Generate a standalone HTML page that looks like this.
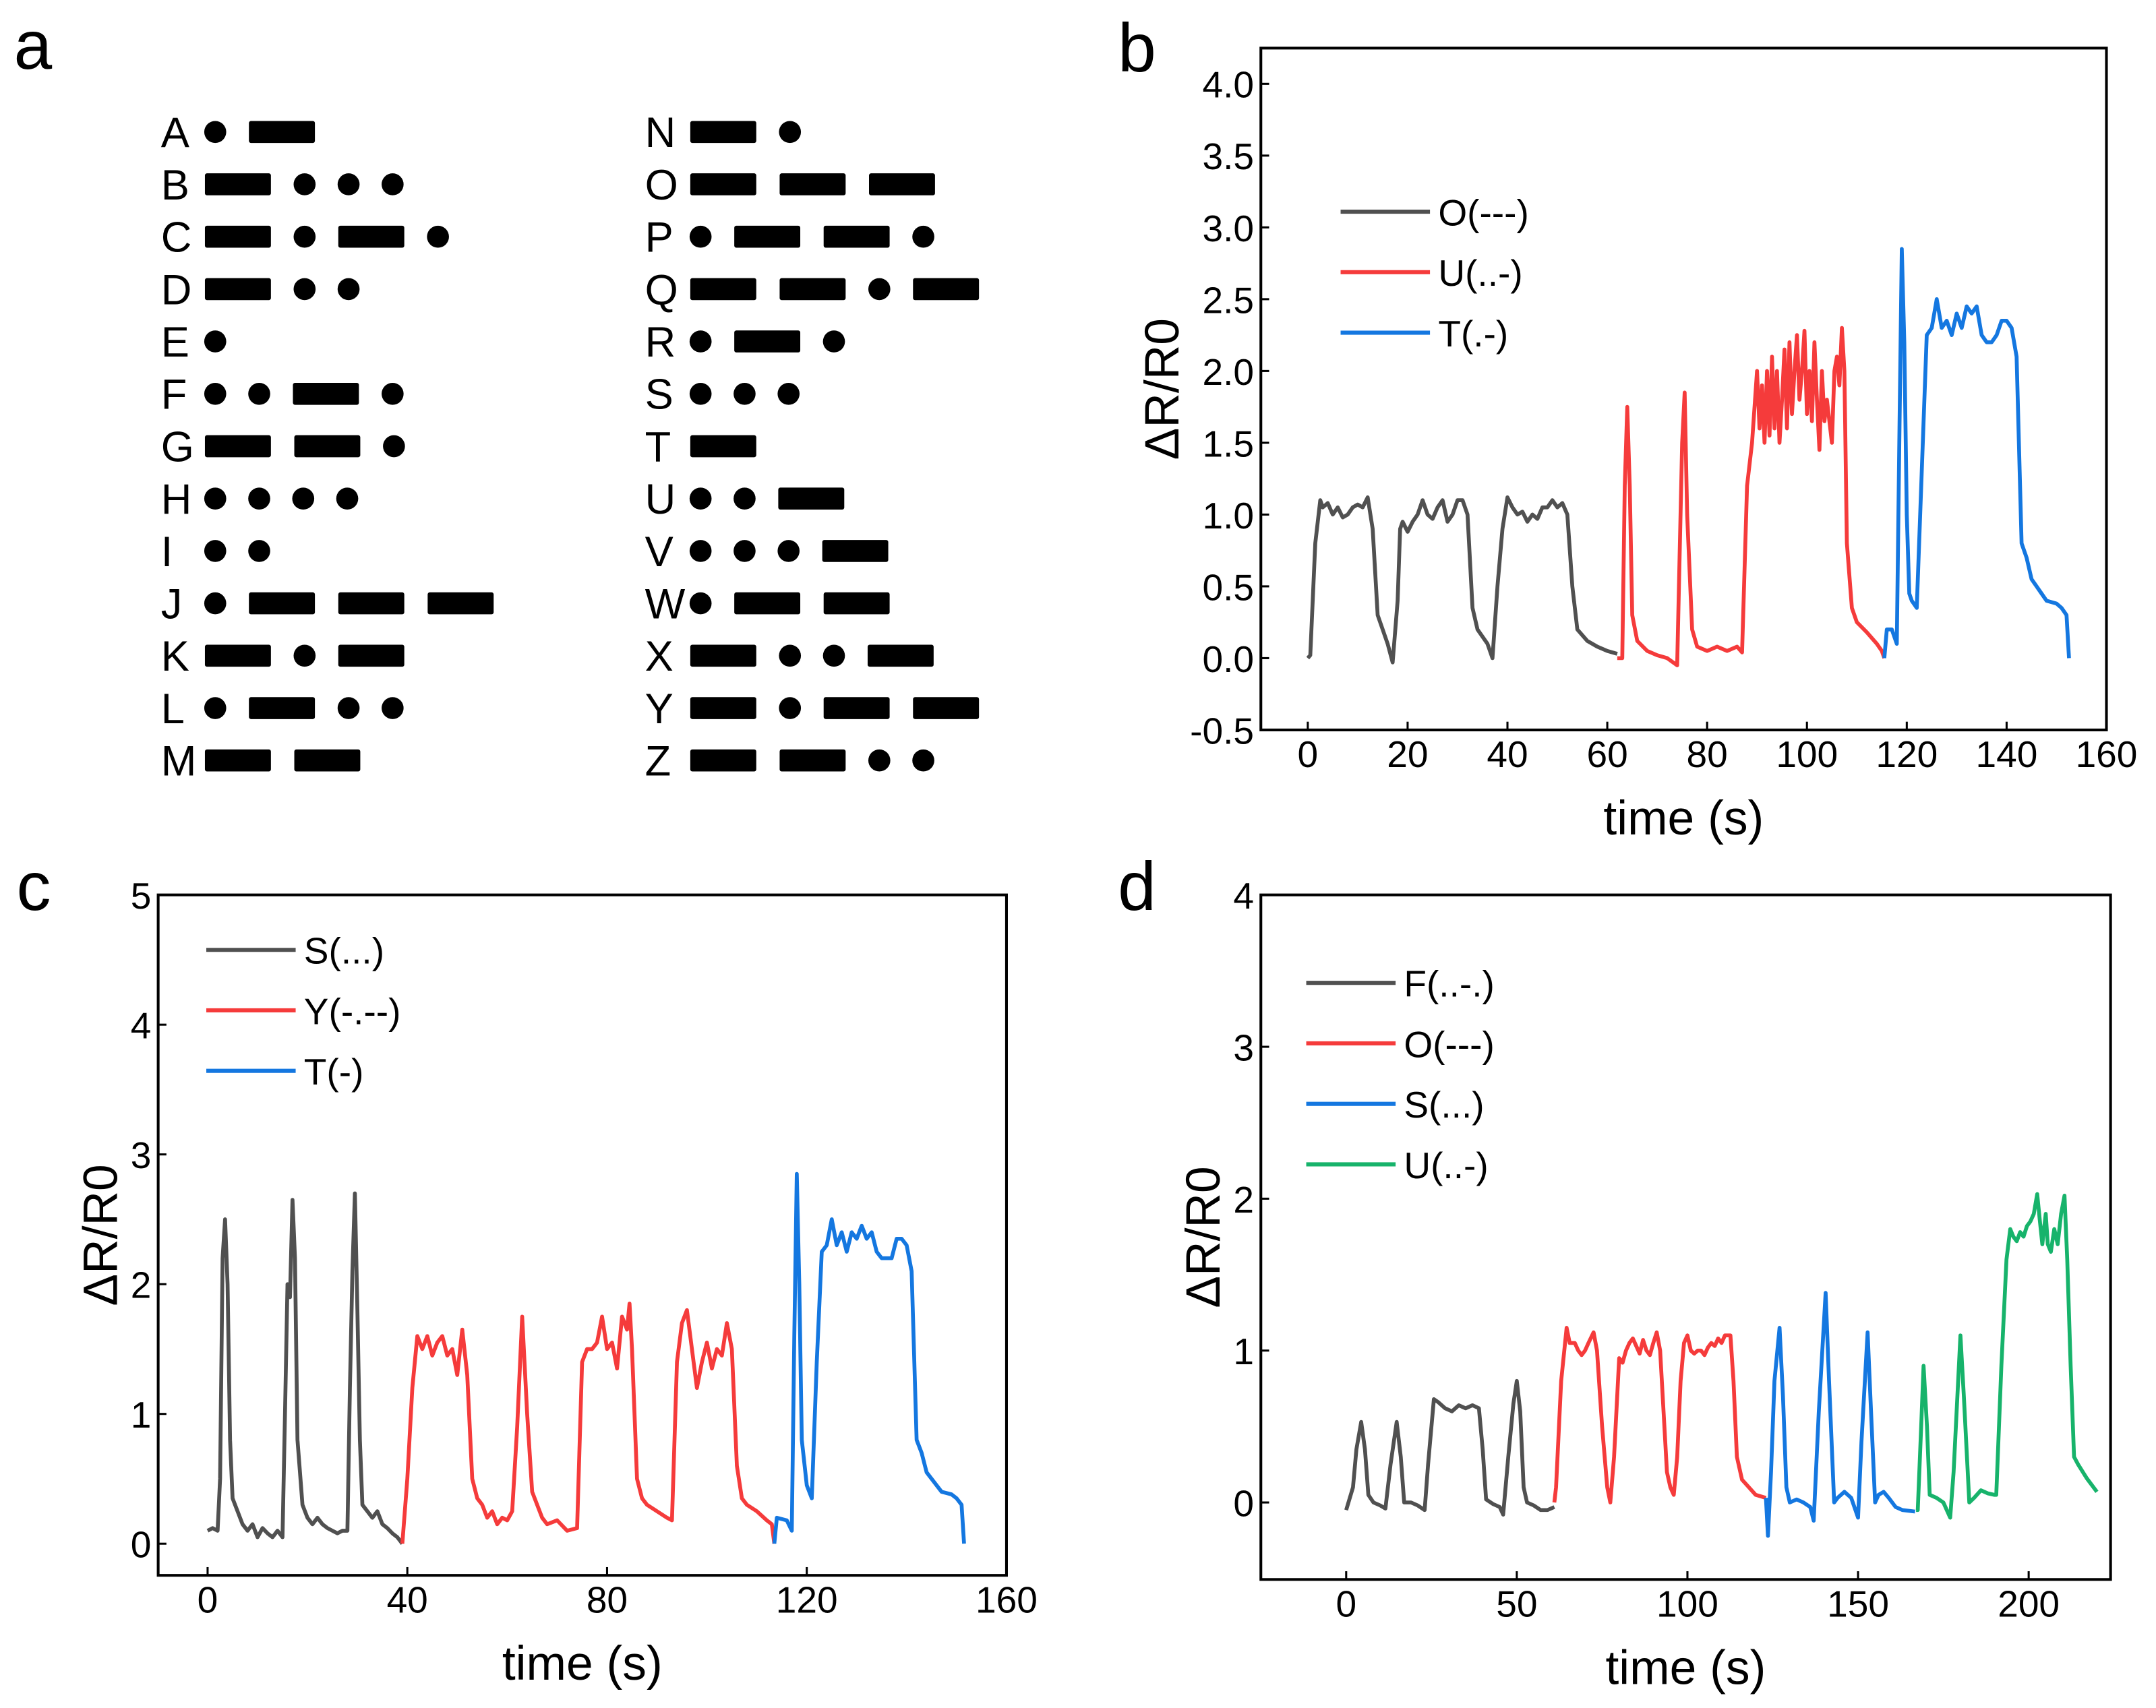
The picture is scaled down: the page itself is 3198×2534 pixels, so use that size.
<!DOCTYPE html>
<html><head><meta charset="utf-8"><style>
html,body{margin:0;padding:0;background:#fff;}
svg{display:block;font-family:"Liberation Sans",Arial,sans-serif;}
</style></head><body>
<svg id="fig" xmlns="http://www.w3.org/2000/svg" width="3198" height="2534" viewBox="0 0 1568 1242.5">
<rect x="0" y="0" width="1568" height="1242.5" fill="#fff"/>
<g id="morse"></g>
<g id="pb"></g>
<g id="pc"></g>
<g id="pd"></g>
</svg>
<script>
const NS="http://www.w3.org/2000/svg";
// ---------- Morse data ----------
const morseLeft=[["A",".-"],["B","-..."],["C","-.-."],["D","-.."],["E","."],["F","..-."],["G","--."],["H","...."],["I",".."],["J",".---"],["K","-.-"],["L",".-.."],["M","--"]];
const morseRight=[["N","-."],["O","---"],["P",".--."],["Q","--.-"],["R",".-."],["S","..."],["T","-"],["U","..-"],["V","...-"],["W",".--"],["X","-..-"],["Y","-.--"],["Z","--.."]];

// ---------- Panel b data ----------
const bCats=["O(---)","U(..-)","T(.-)"];
const bOt=[0,0.5,1.5,2.5,3,4,5,6,7,8,9,10,11,12,13,14,15,16,17,18,18.5,19,20,21,22,23,24,25,26,27,28,29,30,31,32,33,34,35,36,37,38,39,40,41,42,43,44,45,46,47,48,49,50,51,52,53,54,56,58,60,62];
const bOv=[0,0.02,0.8,1.1,1.05,1.08,1.0,1.05,0.98,1.0,1.05,1.07,1.05,1.12,0.9,0.3,0.2,0.1,-0.03,0.4,0.9,0.95,0.88,0.95,1.0,1.1,1.0,0.97,1.05,1.1,0.95,1.0,1.1,1.1,1.0,0.35,0.2,0.15,0.1,0.0,0.5,0.9,1.12,1.05,1.0,1.02,0.95,1.0,0.97,1.05,1.05,1.1,1.05,1.08,1.0,0.5,0.2,0.12,0.08,0.05,0.03];
const bUt=[62,63,63.5,64,64.5,65,66,68,70,72,74,75,75.5,76,77,78,80,82,84,86,87,88,89,90,90.5,91,91.5,92,92.5,93,93.5,94,94.5,95,95.5,96,96.5,97,97.5,98,98.5,99,99.5,100,100.5,101,101.5,102,102.5,103,103.5,104,105,105.5,106,106.5,107,107.5,108,109,110,112,114,115,115.5];
const bUv=[0,0,1.2,1.75,1.2,0.3,0.12,0.05,0.02,0,-0.05,1.5,1.85,1.0,0.2,0.08,0.05,0.08,0.05,0.08,0.04,1.2,1.5,2.0,1.6,1.9,1.5,2.0,1.55,2.1,1.6,2.0,1.5,1.8,2.15,1.6,2.2,1.7,2.0,2.25,1.8,2.0,2.28,1.7,2.0,1.65,2.2,1.8,1.45,2.0,1.65,1.8,1.5,2.0,2.1,1.9,2.3,2.0,0.8,0.35,0.25,0.18,0.1,0.05,0];
const bTt=[115.5,116,117,118,118.5,119,119.5,120,120.5,121,122,123,124,125,126,127,128,129,130,131,132,133,134,135,136,137,138,139,140,141,142,143,144,145,146,147,148,150,151,152,152.5];
const bTv=[0,0.2,0.2,0.1,1.5,2.85,2.2,1.0,0.45,0.4,0.35,1.3,2.25,2.3,2.5,2.3,2.35,2.25,2.4,2.3,2.45,2.4,2.45,2.25,2.2,2.2,2.25,2.35,2.35,2.3,2.1,0.8,0.7,0.55,0.5,0.45,0.4,0.38,0.35,0.3,0];
const bYTicks=[-0.5,0,0.5,1,1.5,2,2.5,3,3.5,4];
const bXTicks=[0,20,40,60,80,100,120,140,160];

// ---------- Panel c data ----------
const cCats=["S(...)","Y(-.--)","T(-)"];
const cSt=[0,1,2,2.5,3,3.5,4,4.5,5,6,7,8,9,10,11,12,13,14,15,15.5,16,16.5,17,17.5,18,19,20,21,22,23,24,25,26,27,28,28.5,29,29.5,30,30.5,31,32,33,34,35,36,37,38,39];
const cSv=[0.1,0.12,0.1,0.5,2.2,2.5,2.0,0.8,0.35,0.25,0.15,0.1,0.15,0.05,0.12,0.08,0.05,0.1,0.05,1.0,2.0,1.9,2.65,2.2,0.8,0.3,0.2,0.15,0.2,0.15,0.12,0.1,0.08,0.1,0.1,1.2,2.1,2.7,1.8,0.8,0.3,0.25,0.2,0.25,0.15,0.12,0.08,0.05,0.0];
const cYt=[39,40,41,42,43,44,45,46,47,48,49,50,51,52,53,54,55,56,57,58,59,60,61,62,63,64,65,66,67,68,70,72,74,75,76,77,78,79,80,81,82,83,84,84.5,85,86,87,88,90,92,93,94,95,96,97,98,99,100,101,102,103,104,105,106,107,108,110,112,113,113.5];
const cYv=[0,0.5,1.2,1.6,1.5,1.6,1.45,1.55,1.6,1.45,1.5,1.3,1.65,1.3,0.5,0.35,0.3,0.2,0.25,0.15,0.2,0.18,0.25,0.9,1.75,1.0,0.4,0.3,0.2,0.15,0.18,0.1,0.12,1.4,1.5,1.5,1.55,1.75,1.5,1.55,1.35,1.75,1.65,1.85,1.5,0.5,0.35,0.3,0.25,0.2,0.18,1.4,1.7,1.8,1.5,1.2,1.4,1.55,1.35,1.5,1.45,1.7,1.5,0.6,0.35,0.3,0.25,0.18,0.15,0];
const cTt=[113.5,114,116,117,117.5,118,118.5,119,120,121,122,123,124,125,126,127,128,129,130,131,132,133,134,135,136,137,138,139,140,141,142,143,144,145,146,147,149,150,151,151.5];
const cTv=[0,0.2,0.18,0.1,1.6,2.85,2.0,0.8,0.45,0.35,1.4,2.25,2.3,2.5,2.3,2.4,2.25,2.4,2.35,2.45,2.35,2.4,2.25,2.2,2.2,2.2,2.35,2.35,2.3,2.1,0.8,0.7,0.55,0.5,0.45,0.4,0.38,0.35,0.3,0];
const cYTicks=[0,1,2,3,4,5];
const cXTicks=[0,40,80,120,160];

// ---------- Panel d data ----------
const dCats=["F(..-.)","O(---)","S(...)","U(..-)"];
const dFt=[0,2,3,4.4,5.5,6.5,8,10,11.5,13,14.8,16,17,19,21,23,24,25.7,27,29,31,33,35,37,38.9,40,41,43,45,46,47.5,49,50,51,52,53,55,57,59,61];
const dFv=[-0.05,0.1,0.35,0.53,0.35,0.05,0.0,-0.02,-0.04,0.25,0.53,0.3,0.0,0.0,-0.02,-0.05,0.25,0.68,0.66,0.62,0.6,0.64,0.62,0.64,0.62,0.35,0.02,-0.01,-0.03,-0.08,0.3,0.65,0.8,0.6,0.1,0.0,-0.02,-0.05,-0.05,-0.03];
const dOt=[61,61.5,63,64.6,65.5,67,68,69,70,71,72.5,73.5,75,76.5,77.4,78.5,80,81,82,83,84,85,86,87,88,89,90,91,92,93,94,95,96,97,98,99,100,101,102,103,104,105,106,107,108,109,110,111,112.6,113.5,114.5,116,118,120,123];
const dOv=[0.0,0.1,0.8,1.15,1.05,1.05,1.0,0.97,1.0,1.05,1.12,1.0,0.5,0.1,0.0,0.3,0.95,0.92,1.0,1.05,1.08,1.03,0.98,1.07,1.0,0.97,1.05,1.12,1.0,0.6,0.2,0.1,0.05,0.3,0.8,1.05,1.1,1.0,0.98,1.0,1.0,0.97,1.02,1.05,1.03,1.08,1.05,1.1,1.1,0.8,0.3,0.15,0.1,0.05,0.03];
const dSt=[123,123.6,124.5,125.5,127,128,129,130,132,134,136,137,138.5,140.5,141.5,143,144,146,148,150,151,152.8,153.8,155,156,157.5,159,161,163,166.7];
const dSv=[0.03,-0.22,0.2,0.8,1.15,0.7,0.1,0.0,0.02,0.0,-0.03,-0.12,0.6,1.38,0.8,0.0,0.03,0.07,0.03,-0.1,0.4,1.12,0.6,0.0,0.05,0.07,0.03,-0.03,-0.05,-0.06];
const dUt=[167,167.5,168.5,169.2,170.2,171,173,175,177,178,180,181,182.6,184,186,188,190,190.5,192,193.5,194.6,195.5,196.5,197.5,198.5,199.5,200.5,201.5,202.5,203.3,204,205,205.6,206.5,207.5,208.5,209.5,210.5,211.3,212.3,213.3,214.5,217,220];
const dUv=[-0.05,-0.05,0.5,0.9,0.5,0.05,0.03,0.0,-0.1,0.2,1.1,0.7,0.0,0.03,0.08,0.06,0.05,0.05,0.9,1.6,1.8,1.75,1.72,1.78,1.75,1.82,1.85,1.9,2.03,1.85,1.7,1.9,1.7,1.65,1.8,1.7,1.9,2.02,1.6,0.9,0.3,0.25,0.16,0.07];
const dYTicks=[0,1,2,3,4];
const dXTicks=[0,50,100,150,200];

const GRAY="#505050",RED="#f53b3b",BLUE="#1477e0",GREEN="#17b36b";

function el(tag,attrs,parent,text){const e=document.createElementNS(NS,tag);for(const k in attrs)e.setAttribute(k,attrs[k]);if(text!==undefined)e.textContent=text;parent.appendChild(e);return e;}

// ---------- Morse draw ----------
const mg=document.getElementById('morse');
const pl=el('text',{x:10,y:50,'font-size':50},mg,'a');


function drawMorse(list,lx,sx){
  list.forEach((it,i)=>{
    const cy=96+i*38.1;
    const t=el('text',{x:lx,y:cy+11,'font-size':31},mg,it[0]);
    
    
    let x=sx;
    for(const ch of it[1]){
      if(ch==='.'){const c=el('circle',{cx:x+7.5,cy:cy,r:8},mg);
        
        
        x+=32;}
      else{const r=el('rect',{x:x,y:cy-8,width:48,height:16,rx:1.5},mg);
        
        
        x+=65;}
    }
  });
}
drawMorse(morseLeft,117,149);
drawMorse(morseRight,469,502);

// ---------- Chart helper ----------
function chart(g,cfg){
  const {L,R,T,B,xmin,xmax,ymin,ymax}=cfg;
  const sx=v=>L+(v-xmin)/(xmax-xmin)*(R-L);
  const sy=v=>B-(v-ymin)/(ymax-ymin)*(B-T);
  const lab=el('text',{x:cfg.lx,y:cfg.ly,'font-size':50},g,cfg.letter);
  
  
  const fr=el('rect',{x:L,y:T,width:R-L,height:B-T,fill:'none',stroke:'#000','stroke-width':2},g);
  
  
  cfg.yt.forEach(v=>{
    const y=sy(v);
    const tk=el('line',{x1:L,x2:L+6,y1:y,y2:y,stroke:'#000','stroke-width':1.5},g);
    
    
    const t=el('text',{x:L-5,y:y+10,'font-size':27,'text-anchor':'end'},g,cfg.yfmt(v));
    
    
  });
  cfg.xt.forEach(v=>{
    const x=sx(v);
    const tk=el('line',{x1:x,x2:x,y1:B,y2:B-6,stroke:'#000','stroke-width':1.5},g);
    
    
    const t=el('text',{x:x,y:B+27,'font-size':27,'text-anchor':'middle'},g,String(v));
    
    
  });
  const xt=el('text',{x:(L+R)/2,y:B+76,'font-size':35,'text-anchor':'middle'},g,'time (s)');
  
  
  const yc=(T+B)/2+cfg.yoff;
  const yt=el('text',{x:L-cfg.ytx,y:yc,'font-size':35,'text-anchor':'middle',transform:`rotate(-90 ${L-cfg.ytx} ${yc})`},g,'ΔR/R0');
  
  
  cfg.series.forEach((s,i)=>{
    const d=s.t.map((t,j)=>(j?'L':'M')+sx(t).toFixed(2)+' '+sy(s.v[j]).toFixed(2)).join('');
    const p=el('path',{d:d,fill:'none',stroke:s.c,'stroke-width':2.8,'stroke-linejoin':'round'},g);
    
    
    const ly=cfg.legY+i*cfg.legDy;
    const ll=el('line',{x1:cfg.legX,x2:cfg.legX+65,y1:ly,y2:ly,stroke:s.c,'stroke-width':3},g);
    
    
    const lt=el('text',{x:cfg.legX+71,y:ly+10,'font-size':27},g,s.n);
    
    
  });
}

chart(document.getElementById('pb'),{letter:'b',lx:813,ly:52,L:917,R:1532,T:35,B:531,xmin:-9.4,xmax:160,ymin:-0.5,ymax:4.2486,
  yt:bYTicks,xt:bXTicks,yfmt:v=>v.toFixed(1),ytx:60,yoff:0,legX:975,legY:154,legDy:44,
  series:[{n:bCats[0],t:bOt,v:bOv,c:GRAY},{n:bCats[1],t:bUt,v:bUv,c:RED},{n:bCats[2],t:bTt,v:bTv,c:BLUE}]});
chart(document.getElementById('pc'),{letter:'c',lx:12,ly:662,L:115,R:732,T:651,B:1146,xmin:-9.9,xmax:160,ymin:-0.244,ymax:5,
  yt:cYTicks,xt:cXTicks,yfmt:v=>String(v),ytx:30,yoff:0,legX:150,legY:691,legDy:44,
  series:[{n:cCats[0],t:cSt,v:cSv,c:GRAY},{n:cCats[1],t:cYt,v:cYv,c:RED},{n:cCats[2],t:cTt,v:cTv,c:BLUE}]});
chart(document.getElementById('pd'),{letter:'d',lx:813,ly:662,L:917,R:1535,T:651,B:1149,xmin:-25,xmax:224,ymin:-0.507,ymax:4,
  yt:dYTicks,xt:dXTicks,yfmt:v=>String(v),ytx:30,yoff:0,legX:950,legY:715,legDy:44,
  series:[{n:dCats[0],t:dFt,v:dFv,c:GRAY},{n:dCats[1],t:dOt,v:dOv,c:RED},{n:dCats[2],t:dSt,v:dSv,c:BLUE},{n:dCats[3],t:dUt,v:dUv,c:GREEN}]});
</script>
</body></html>
